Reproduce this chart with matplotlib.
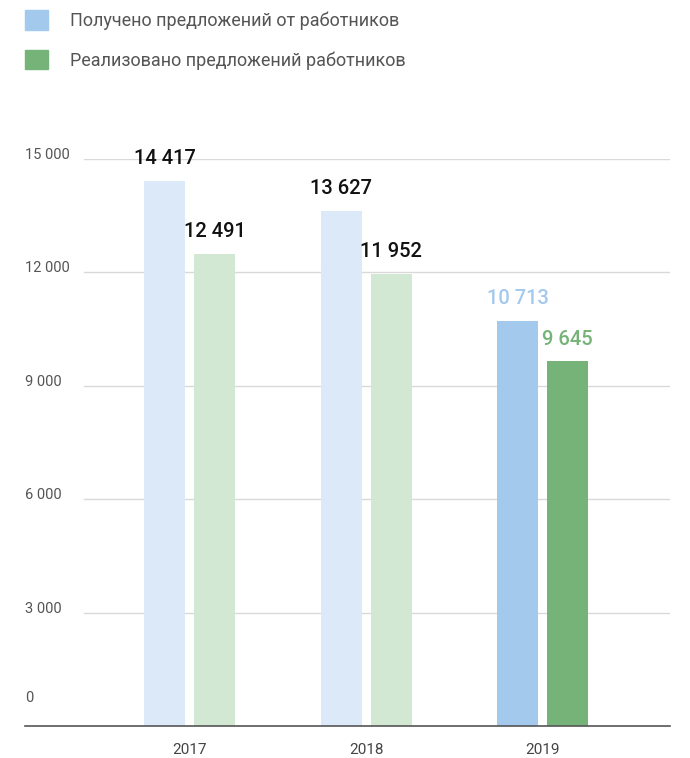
import matplotlib
matplotlib.use('Agg')
import matplotlib.pyplot as plt
from matplotlib.patches import Patch
import numpy as np

# ── Theme ─────────────────────────────────────────────────────────────────
PALE_BLUE = '#dce9f8'
PALE_GREEN = '#d3e8d3'
BLUE = '#a3c9ec'
GREEN = '#75b378'
GRID = '#d9d9d9'
AXIS = '#555555'
TEXT = '#555555'
BLACK = '#111111'
FONT = ['Roboto', 'DejaVu Sans']

plt.rcParams['font.family'] = FONT

# ── Data ──────────────────────────────────────────────────────────────────
years = ['2017', '2018', '2019']
received = [14417, 13627, 10713]
implemented = [12491, 11952, 9645]
yticks = [0, 3000, 6000, 9000, 12000, 15000]
legend_labels = ['Получено предложений от работников',
                 'Реализовано предложений работников']

received_colors = [PALE_BLUE, PALE_BLUE, BLUE]
implemented_colors = [PALE_GREEN, PALE_GREEN, GREEN]
received_label_colors = [BLACK, BLACK, BLUE]
implemented_label_colors = [BLACK, BLACK, GREEN]


def fmt(v):
    return f'{v:,}'.replace(',', ' ')


# ── Figure ────────────────────────────────────────────────────────────────
W, H = 690, 758
fig = plt.figure(figsize=(W / 100, H / 100), dpi=100)
ax = fig.add_axes([25 / W, 32 / H, 645 / W, 567 / H])

x = np.arange(len(years))
bw = 0.232
off = 0.1416
b1 = ax.bar(x - off, received, width=bw, color=received_colors, zorder=2)
b2 = ax.bar(x + off, implemented, width=bw, color=implemented_colors, zorder=2)

# value labels above bars
for bars, vals, cols in [(b1, received, received_label_colors),
                         (b2, implemented, implemented_label_colors)]:
    for bar, v, c in zip(bars, vals, cols):
        ax.annotate(fmt(v), xy=(bar.get_x() + bar.get_width() / 2, v),
                    xytext=(0, 16), textcoords='offset points',
                    ha='center', va='center', fontsize=14.5, fontweight='medium',
                    color=c, annotation_clip=False)

ax.set_xlim(-0.932, 2.722)
ax.set_ylim(0, 15000)

# gridlines (start a bit right of the tick labels)
for t in yticks[1:]:
    ax.axhline(t, xmin=0.0915, xmax=1, color=GRID, linewidth=1, zorder=1)

# y tick labels sit just above their lines
for t in yticks:
    if t == 0:
        ax.annotate('0', xy=(0, 0), xycoords=('axes fraction', 'data'),
                    xytext=(0, 17.5), textcoords='offset points',
                    ha='left', va='baseline', fontsize=10.5, color=TEXT)
    else:
        ax.text(0, t, fmt(t), transform=ax.get_yaxis_transform(),
                ha='left', va='baseline', fontsize=10.5, color=TEXT)

ax.set_yticks([])
ax.set_xticks(x)
ax.set_xticklabels(years, fontsize=11, color='#444444')
ax.tick_params(axis='x', length=0, pad=12)

for s in ['top', 'right', 'left']:
    ax.spines[s].set_visible(False)
ax.spines['bottom'].set_color(AXIS)
ax.spines['bottom'].set_linewidth(1.2)

# ── Legend ────────────────────────────────────────────────────────────────
handles = [Patch(color=BLUE), Patch(color=GREEN)]
fig.legend(handles, legend_labels, loc='upper left',
           bbox_to_anchor=(25 / W, 1 - 10 / H), frameon=False, fontsize=13,
           labelcolor=TEXT, handlelength=1.3, handleheight=1.3,
           handletextpad=1.2, labelspacing=1.1, borderpad=0, borderaxespad=0)

plt.savefig('out.png', dpi=100)
plt.close()
